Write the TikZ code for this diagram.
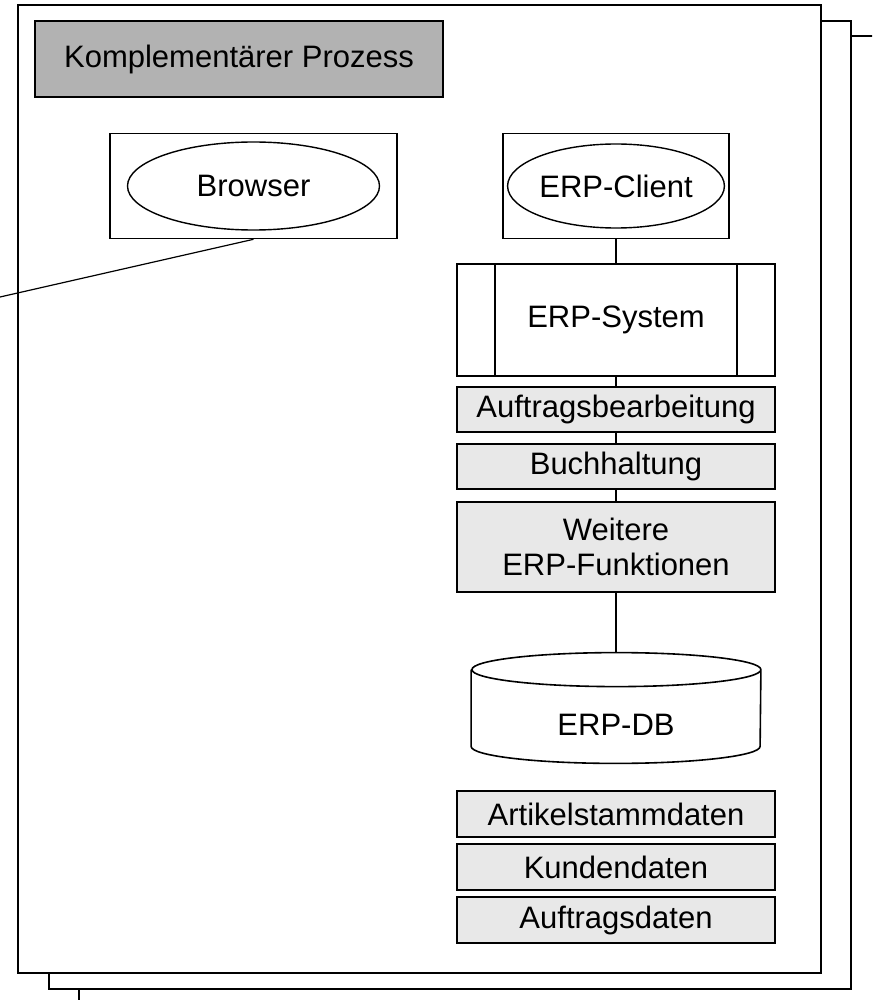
\documentclass[tikz,border=0pt]{standalone}
\usepackage{fontspec}
\setmainfont{Liberation Sans}
\usetikzlibrary{shapes.geometric,positioning}
\tikzstyle{frame}=[line width=1pt,draw=black,fill=white]
\tikzstyle{process}=[draw=black,line width=0.8pt,fill=black!30,
                     minimum width=204pt,minimum height=38pt,inner sep=0pt]
\tikzstyle{appbox}=[draw,line width=0.8pt,minimum height=52.5pt,inner sep=0pt]
\tikzstyle{appell}=[ellipse,draw,line width=0.7pt,inner sep=0pt]
\tikzstyle{func}=[draw,line width=0.8pt,fill=black!9,minimum width=159pt,
                  minimum height=22.5pt,inner sep=0pt,align=center]
\tikzstyle{conn}=[line width=0.6pt]
\begin{document}
\begin{tikzpicture}[x=0.5pt,y=-0.5pt,font=\fontsize{15.5}{17.5}\selectfont]
    \useasboundingbox (0,0) rectangle (872,1000);
    \begin{scope}
      \clip (0,0) rectangle (872,1000);
      \draw[frame] (79,36) rectangle (910,1030);
    \end{scope}
    \draw[frame] (49,21) rectangle (851,989);
    \draw[frame] (18,5) rectangle (821,973);

    \node[process] (prozess) at (239,59) {Komplementärer Prozess};
    \node[appbox, minimum width=143.5pt] (browser) at (253.5,186) {};
    \node[appell, minimum width=126pt, minimum height=44pt] (browserell) at (browser) {Browser};
    \node[appbox, minimum width=113pt] (client) at (616,186) {};
    \node[appell, minimum width=99.5pt, minimum height=42pt] (clientell) at (client) {ERP-Client};
    \node[func, fill=white, minimum height=56pt, node distance=67pt, below of=client] (system) {ERP-System};
    \draw[line width=0.8pt] ([xshift=19.5pt]system.north west) -- ([xshift=19.5pt]system.south west)
        ([xshift=-19.5pt]system.north east) -- ([xshift=-19.5pt]system.south east);
    \node[func, node distance=44.75pt, below of=system] (auftrag) {Auftragsbearbeitung};
    \node[func, node distance=28.5pt, below of=auftrag] (buch) {Buchhaltung};
    \node[func, minimum height=45pt, node distance=40.25pt, below of=buch] (weitere) {Weitere\\ERP-Funktionen};
    \node[minimum width=144.5pt, minimum height=38pt, inner sep=0pt, node distance=89pt, below of=weitere] (db) {ERP-DB};
    \draw[line width=0.8pt, fill=white] ([yshift=8.5pt]db.north west) -- ([yshift=8.5pt]db.south west)
        arc[start angle=180, end angle=360, x radius=72.25pt, y radius=8.5pt]
        -- ([yshift=8.5pt]db.north east)
        arc[start angle=0, end angle=360, x radius=72.25pt, y radius=8.5pt];
    \node at (db) {ERP-DB};
    \coordinate (dbtop) at ([yshift=17pt]db.north);
    \node[func, minimum height=23pt, node distance=44.5pt, below of=db] (artikel) {Artikelstammdaten};
    \node[func, minimum height=23pt, node distance=26.5pt, below of=artikel] (kunden) {Kundendaten};
    \node[func, minimum height=23pt, node distance=26.5pt, below of=kunden] (adaten) {Auftragsdaten};

    \coordinate (off) at (0,297);
    \draw[conn] (browser.south) -- (off);
    \draw[conn] (client) -- (system) (system) -- (auftrag) (auftrag) -- (buch)
        (buch) -- (weitere) (weitere) -- (dbtop);
\end{tikzpicture}
\end{document}
